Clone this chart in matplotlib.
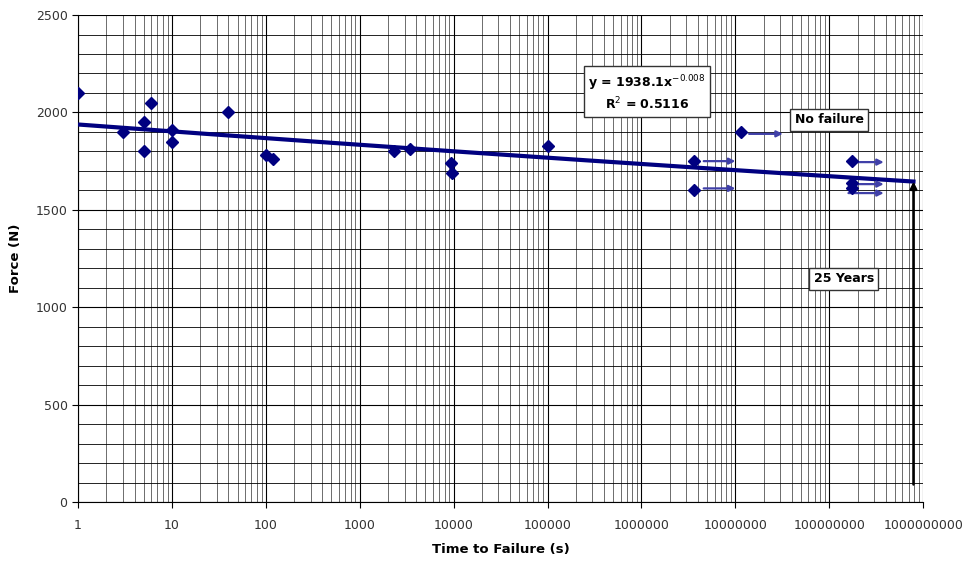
import numpy as np
import matplotlib.pyplot as plt
from matplotlib.ticker import FixedLocator, FixedFormatter, LogLocator, MultipleLocator, NullFormatter

plt.rcParams['font.family'] = 'DejaVu Sans'

# failed samples
times = [1, 3, 5, 5, 6, 10, 10, 40, 100, 120, 2300, 3400, 9300, 9500, 102000]
forces = [2100, 1900, 1950, 1800, 2050, 1910, 1850, 2000, 1780, 1760, 1800, 1810, 1740, 1690, 1830]

# run-outs (no failure)
runout_times = [3.6e6, 3.6e6, 1.16e7, 1.76e8, 1.76e8, 1.76e8]
runout_forces = [1750, 1600, 1900, 1750, 1640, 1610]
arrow_start = [4.6e6, 4.6e6, 1.4e7, 1.6e8, 1.6e8, 1.6e8]
arrow_end = [1.0e7, 1.0e7, 3.2e7, 3.8e8, 3.8e8, 3.8e8]
arrow_y = [1750, 1610, 1890, 1745, 1632, 1586]

# power law trend y = a * x^b
coef_a = 1938.1
coef_b = -0.008
t_25y = 7.88e8

fig = plt.figure(figsize=(9.67, 5.63), dpi=100)
ax = fig.add_axes([0.0807, 0.1083, 0.874, 0.865])

ax.set_xscale('log')
ax.set_xlim(1, 1e9)
ax.set_ylim(0, 2500)

# grid
ax.xaxis.set_minor_locator(LogLocator(base=10, subs=np.arange(2, 10)))
ax.xaxis.set_minor_formatter(NullFormatter())
ax.yaxis.set_major_locator(MultipleLocator(500))
ax.yaxis.set_minor_locator(MultipleLocator(100))
ax.grid(which='major', axis='both', color='black', lw=0.8)
ax.grid(which='minor', axis='x', color='#333333', lw=0.5)
ax.grid(which='minor', axis='y', color='black', lw=0.6)
ax.set_axisbelow(True)

decades = [10 ** k for k in range(10)]
ax.xaxis.set_major_locator(FixedLocator(decades))
ax.xaxis.set_major_formatter(FixedFormatter([str(d) for d in decades]))
ax.tick_params(axis='both', which='major', labelsize=9, length=4, color='black', labelcolor='#333333')
ax.tick_params(axis='both', which='minor', length=0)
ax.tick_params(axis='x', pad=8)

for side in ['top', 'right']:
    ax.spines[side].set_visible(False)
for side in ['left', 'bottom']:
    ax.spines[side].set_color('black')

# trend line
xt = np.logspace(0, np.log10(t_25y), 200)
ax.plot(xt, coef_a * xt ** coef_b, color='#000080', lw=3, zorder=3)

# run-out arrows
for x0, x1, yv in zip(arrow_start, arrow_end, arrow_y):
    ax.annotate('', xy=(x1, yv), xytext=(x0, yv),
                arrowprops=dict(arrowstyle='-|>', color='#4040a8', lw=1.6,
                                mutation_scale=9, shrinkA=0, shrinkB=0), zorder=4)

ax.plot(times, forces, linestyle='none', marker='D', ms=6, color='#000080', zorder=5)
ax.plot(runout_times, runout_forces, linestyle='none', marker='D', ms=6, color='#000080', zorder=5)

# 25 years arrow
ax.annotate('', xy=(t_25y, coef_a * t_25y ** coef_b), xytext=(t_25y, 90),
            arrowprops=dict(arrowstyle='-|>', color='black', lw=1.8,
                            mutation_scale=10, shrinkA=0, shrinkB=0), zorder=6)

box = dict(boxstyle='square,pad=0.35', fc='white', ec='#333333', lw=1)
ax.text(2.7e5, 2100, 'y = 1938.1x$^{-0.008}$\nR$^{2}$ = 0.5116', fontsize=9, fontweight='bold',
        va='center', ha='left', multialignment='center', bbox=box, zorder=7)
ax.text(4.3e7, 1962, 'No failure', fontsize=9, fontweight='bold', va='center', ha='left', bbox=box, zorder=7)
ax.text(6.8e7, 1145, '25 Years', fontsize=9, fontweight='bold', va='center', ha='left',
        bbox=dict(boxstyle='square,pad=0.35', fc='white', ec='#333333', lw=1),
        zorder=7)

ax.set_xlabel('Time to Failure (s)', fontsize=9.5, fontweight='bold', labelpad=8)
ax.set_ylabel('Force (N)', fontsize=9.5, fontweight='bold', labelpad=10)

fig.savefig('out.png', dpi=100)
